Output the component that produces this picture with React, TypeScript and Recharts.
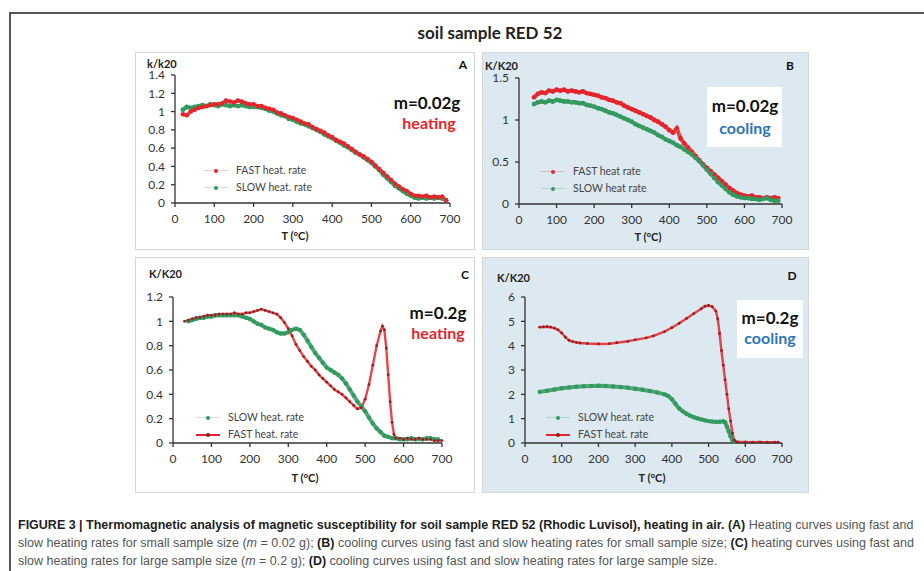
import React from 'react';
import { LineChart, Line, XAxis, YAxis } from 'recharts';

// temperatures (°C) and normalised susceptibility
const tempA = [20, 30, 40, 50, 60, 70, 80, 90, 100, 110, 120, 130, 140, 150, 160, 170, 180, 190, 200, 210, 220, 230, 240, 250, 260, 270, 280, 290, 300, 310, 320, 330, 340, 350, 360, 370, 380, 390, 400, 410, 420, 430, 440, 450, 460, 470, 480, 490, 500, 510, 520, 530, 540, 550, 560, 570, 580, 590, 600, 610, 620, 630, 640, 650, 660, 670, 680, 690];
const fastA = [0.97, 0.96, 1.0, 1.02, 1.04, 1.05, 1.06, 1.07, 1.08, 1.08, 1.09, 1.12, 1.11, 1.1, 1.12, 1.11, 1.09, 1.08, 1.08, 1.06, 1.06, 1.04, 1.03, 1.02, 0.99, 0.98, 0.96, 0.94, 0.93, 0.91, 0.89, 0.87, 0.86, 0.83, 0.81, 0.79, 0.77, 0.74, 0.72, 0.69, 0.67, 0.65, 0.62, 0.59, 0.56, 0.53, 0.51, 0.48, 0.45, 0.41, 0.37, 0.33, 0.29, 0.25, 0.21, 0.18, 0.15, 0.13, 0.1, 0.08, 0.08, 0.07, 0.08, 0.06, 0.07, 0.06, 0.07, 0.03];
const slowA = [1.02, 1.05, 1.04, 1.05, 1.06, 1.07, 1.06, 1.08, 1.07, 1.06, 1.08, 1.07, 1.06, 1.07, 1.06, 1.07, 1.06, 1.05, 1.05, 1.05, 1.04, 1.03, 1.01, 1.0, 0.98, 0.96, 0.95, 0.92, 0.91, 0.89, 0.87, 0.86, 0.84, 0.82, 0.8, 0.78, 0.75, 0.73, 0.71, 0.68, 0.66, 0.63, 0.61, 0.58, 0.55, 0.53, 0.5, 0.47, 0.44, 0.4, 0.36, 0.31, 0.27, 0.23, 0.19, 0.16, 0.13, 0.1, 0.08, 0.06, 0.05, 0.06, 0.05, 0.06, 0.05, 0.06, 0.05, 0.03];

const tempB = [40, 50, 60, 70, 80, 90, 100, 110, 120, 130, 140, 150, 160, 170, 180, 190, 200, 210, 220, 230, 240, 250, 260, 270, 280, 290, 300, 310, 320, 330, 340, 350, 360, 370, 380, 390, 400, 410, 420, 430, 440, 450, 460, 470, 480, 490, 500, 510, 520, 530, 540, 550, 560, 570, 580, 590, 600, 610, 620, 630, 640, 650, 660, 670, 680, 690];
const fastB = [1.27, 1.31, 1.33, 1.32, 1.35, 1.34, 1.36, 1.35, 1.36, 1.34, 1.35, 1.34, 1.33, 1.34, 1.32, 1.31, 1.3, 1.29, 1.27, 1.26, 1.24, 1.23, 1.21, 1.2, 1.17, 1.15, 1.13, 1.11, 1.09, 1.07, 1.05, 1.03, 1.0, 0.98, 0.95, 0.92, 0.88, 0.85, 0.9, 0.78, 0.72, 0.67, 0.62, 0.57, 0.52, 0.47, 0.43, 0.39, 0.35, 0.31, 0.27, 0.23, 0.19, 0.16, 0.13, 0.11, 0.1, 0.09, 0.1, 0.08, 0.08, 0.07, 0.08, 0.07, 0.08, 0.07];
const slowB = [1.19, 1.21, 1.22, 1.21, 1.23, 1.22, 1.24, 1.23, 1.22, 1.22, 1.21, 1.21, 1.2, 1.2, 1.18, 1.17, 1.16, 1.14, 1.13, 1.11, 1.09, 1.08, 1.06, 1.04, 1.02, 1.0, 0.98, 0.95, 0.93, 0.91, 0.89, 0.87, 0.85, 0.82, 0.8, 0.77, 0.75, 0.73, 0.7, 0.68, 0.65, 0.62, 0.59, 0.55, 0.51, 0.46, 0.41, 0.36, 0.31, 0.26, 0.22, 0.18, 0.14, 0.11, 0.09, 0.08, 0.07, 0.07, 0.06, 0.06, 0.05, 0.06, 0.07, 0.05, 0.04, 0.04];

const tempFastC = [30, 40, 50, 60, 70, 80, 90, 100, 110, 120, 130, 140, 150, 160, 170, 180, 190, 200, 210, 220, 230, 240, 250, 260, 270, 280, 290, 300, 310, 320, 330, 340, 350, 360, 370, 380, 390, 400, 410, 420, 430, 440, 450, 460, 470, 480, 490, 500, 510, 520, 530, 540, 545, 550, 555, 560, 565, 570, 575, 580, 590, 600, 610, 620, 630, 640, 650, 660, 670, 680, 690, 700];
const fastC = [1.0, 1.01, 1.02, 1.03, 1.03, 1.04, 1.05, 1.05, 1.05, 1.06, 1.06, 1.06, 1.06, 1.07, 1.06, 1.06, 1.07, 1.07, 1.08, 1.09, 1.1, 1.09, 1.08, 1.07, 1.06, 1.03, 0.99, 0.94, 0.88, 0.81, 0.76, 0.71, 0.67, 0.63, 0.6, 0.56, 0.53, 0.5, 0.47, 0.44, 0.42, 0.4, 0.37, 0.34, 0.31, 0.28, 0.29, 0.36, 0.48, 0.64, 0.8, 0.92, 0.96, 0.93, 0.78, 0.56, 0.34, 0.17, 0.07, 0.04, 0.04, 0.03, 0.04, 0.03, 0.03, 0.04, 0.03, 0.03, 0.03, 0.02, 0.02, 0.02];
const tempSlowC = [40, 50, 60, 70, 80, 90, 100, 110, 120, 130, 140, 150, 160, 170, 180, 190, 200, 210, 220, 230, 240, 250, 260, 270, 280, 290, 300, 310, 320, 330, 340, 350, 360, 370, 380, 390, 400, 410, 420, 430, 440, 450, 460, 470, 480, 490, 500, 510, 520, 530, 540, 550, 560, 570, 580, 590, 600, 610, 620, 630, 650, 660, 670, 680, 690];
const slowC = [1.0, 1.01, 1.02, 1.03, 1.03, 1.04, 1.04, 1.05, 1.05, 1.05, 1.05, 1.05, 1.05, 1.05, 1.04, 1.03, 1.02, 1.0, 0.98, 0.97, 0.95, 0.94, 0.93, 0.91, 0.9, 0.9, 0.91, 0.93, 0.94, 0.93, 0.89, 0.84, 0.79, 0.74, 0.7, 0.66, 0.62, 0.6, 0.58, 0.56, 0.53, 0.49, 0.44, 0.39, 0.34, 0.3, 0.26, 0.21, 0.16, 0.12, 0.09, 0.06, 0.05, 0.04, 0.04, 0.03, 0.03, 0.03, 0.04, 0.03, 0.03, 0.04, 0.04, 0.03, 0.03];

const tempFastD = [40, 50, 60, 70, 80, 90, 100, 110, 120, 130, 140, 150, 170, 200, 230, 250, 280, 300, 330, 350, 380, 400, 420, 440, 460, 480, 490, 500, 510, 520, 525, 530, 535, 540, 545, 550, 555, 560, 565, 570, 575, 580, 600, 620, 640, 660, 680, 690];
const fastD = [4.76, 4.77, 4.78, 4.76, 4.72, 4.65, 4.52, 4.35, 4.22, 4.17, 4.13, 4.11, 4.09, 4.07, 4.08, 4.12, 4.18, 4.24, 4.32, 4.4, 4.58, 4.74, 4.92, 5.12, 5.32, 5.52, 5.62, 5.65, 5.6, 5.42, 5.1, 4.5, 3.8, 3.2, 2.6, 2.0, 1.4, 0.9, 0.4, 0.12, 0.05, 0.04, 0.04, 0.03, 0.04, 0.03, 0.03, 0.03];
const tempSlowD = [40, 60, 80, 100, 120, 140, 160, 180, 200, 220, 240, 260, 280, 300, 320, 340, 360, 380, 390, 400, 410, 420, 430, 440, 450, 460, 470, 480, 490, 500, 510, 520, 530, 540, 545, 550, 555, 560, 565, 570];
const slowD = [2.1, 2.15, 2.2, 2.25, 2.28, 2.31, 2.33, 2.34, 2.35, 2.34, 2.32, 2.3, 2.27, 2.23, 2.19, 2.14, 2.08, 2.0, 1.93, 1.8, 1.6, 1.42, 1.3, 1.2, 1.12, 1.06, 1.01, 0.97, 0.93, 0.9, 0.88, 0.87, 0.87, 0.89, 0.85, 0.68, 0.48, 0.28, 0.12, 0.05];

const ticksX = [0, 100, 200, 300, 400, 500, 600, 700];
const ticksA = [0, 0.2, 0.4, 0.6, 0.8, 1, 1.2, 1.4];
const ticksB = [0, 0.5, 1, 1.5];
const ticksC = [0, 0.2, 0.4, 0.6, 0.8, 1, 1.2];
const ticksD = [0, 1, 2, 3, 4, 5, 6];

const RED = '#e4252b';
const GREEN = '#33995f';
const BLUE_BG = '#dce9f1';
const FONT = 'Lato, "Open Sans", sans-serif';

const pts = (t: number[], v: number[]) => t.map((x, i) => ({ t: x, v: v[i] }));

const axisProps = {
  stroke: '#333',
  strokeWidth: 1.3,
  tickSize: 4,
  tick: { fontSize: 12, fill: '#333', fontFamily: FONT },
};

type SeriesDef = { data: { t: number; v: number }[]; color: string; width: number; r: number; dotColor?: string };

const Plot = ({ w, h, margin, yw, yDomain, yTicks, series }: {
  w: number; h: number; margin: any; yw: number; yDomain: number[]; yTicks: number[]; series: SeriesDef[];
}) => (
  <LineChart width={w} height={h} margin={margin}>
    <XAxis type="number" dataKey="t" domain={[0, 700]} ticks={ticksX} height={24} tickMargin={7} {...axisProps} />
    <YAxis type="number" domain={yDomain} ticks={yTicks} width={yw} tickMargin={6} interval={0} {...axisProps} />
    {series.map((s, i) => (
      <Line
        key={i}
        data={s.data}
        dataKey="v"
        type="linear"
        stroke={s.color}
        strokeWidth={s.width}
        strokeOpacity={0.85}
        dot={{ r: s.r, fill: s.dotColor || s.color, stroke: 'none' }}
        isAnimationActive={false}
      />
    ))}
  </LineChart>
);

const Txt = ({ x, y, children, style }: { x: number; y: number; children: React.ReactNode; style?: React.CSSProperties }) => (
  <div style={{ position: 'absolute', left: x, top: y, whiteSpace: 'nowrap', fontFamily: FONT, lineHeight: 1, ...style }}>{children}</div>
);

const Centered = ({ x, y, children, style }: { x: number; y: number; children: React.ReactNode; style?: React.CSSProperties }) => (
  <div style={{ position: 'absolute', left: x - 100, top: y, width: 200, textAlign: 'center', whiteSpace: 'nowrap', fontFamily: FONT, lineHeight: 1, transform: 'translateY(-50%)', ...style }}>{children}</div>
);

const LegendItem = ({ x, y, color, label, line, dotColor }: { x: number; y: number; color: string; label: string; line: boolean; dotColor?: string }) => (
  <>
    <div style={{ position: 'absolute', left: x, top: y - 1, width: 24, height: line ? 2 : 1, background: color, opacity: line ? 1 : 0.25 }} />
    <div style={{ position: 'absolute', left: x + 10, top: y - 2, width: 4, height: 4, borderRadius: 2, background: dotColor || color }} />
    <Txt x={x + 32} y={y - 6} style={{ fontSize: 10.5, color: '#444' }}>{label}</Txt>
  </>
);

const panelBox = (left: number, top: number, w: number, h: number, bg: string): React.CSSProperties => ({
  position: 'absolute', left, top, width: w, height: h, background: bg, border: '1px solid #d6d6d6', boxSizing: 'border-box',
});

export default function App() {
  return (
    <div style={{ position: 'absolute', left: 0, top: 0, width: 924, height: 571, overflow: 'hidden', background: '#fff', fontFamily: FONT }}>
      <div style={{ position: 'absolute', left: 9, top: 12, width: 1000, height: 700, border: '2px solid #555', boxSizing: 'border-box' }} />
      <Centered x={490} y={32} style={{ fontSize: 17, fontWeight: 700, color: '#222' }}>soil sample RED 52</Centered>

      {/* A */}
      <div style={panelBox(135, 52, 340, 198, '#fff')}>
        <Plot w={338} h={196} margin={{ top: 22, right: 24, bottom: 22, left: 7 }} yw={32} yDomain={[0, 1.4]} yTicks={ticksA}
          series={[
            { data: pts(tempA, slowA), color: GREEN, width: 4, r: 2.4 },
            { data: pts(tempA, fastA), color: RED, width: 3.5, r: 2.3 },
          ]} />
      </div>
      <Txt x={147} y={58} style={{ fontSize: 11, fontWeight: 700, color: '#222' }}>k/k20</Txt>
      <Centered x={463} y={65} style={{ fontSize: 12, fontWeight: 700, color: '#111' }}>A</Centered>
      <Centered x={427} y={102} style={{ fontSize: 17, fontWeight: 700, color: '#111' }}>m=0.02g</Centered>
      <Centered x={429} y={123} style={{ fontSize: 16, fontWeight: 700, color: RED }}>heating</Centered>
      <LegendItem x={204} y={171} color={RED} label="FAST heat. rate" line={false} />
      <LegendItem x={204} y={188} color={GREEN} label="SLOW heat. rate" line={false} />
      <Centered x={295} y={235} style={{ fontSize: 11, fontWeight: 700, color: '#222' }}>T (°C)</Centered>

      {/* B */}
      <div style={panelBox(482, 52, 327, 198, BLUE_BG)}>
        <Plot w={325} h={196} margin={{ top: 25, right: 26, bottom: 21, left: 6 }} yw={30} yDomain={[0, 1.5]} yTicks={ticksB}
          series={[
            { data: pts(tempB, fastB), color: RED, width: 4, r: 2.4 },
            { data: pts(tempB, slowB), color: GREEN, width: 4, r: 2.4 },
          ]} />
      </div>
      <div style={{ position: 'absolute', left: 707, top: 87, width: 75, height: 60, background: '#fff' }} />
      <Txt x={485} y={60} style={{ fontSize: 11, fontWeight: 700, color: '#222' }}>K/K20</Txt>
      <Centered x={790} y={66} style={{ fontSize: 12, fontWeight: 700, color: '#111' }}>B</Centered>
      <Centered x={745} y={105} style={{ fontSize: 17, fontWeight: 700, color: '#111' }}>m=0.02g</Centered>
      <Centered x={745} y={128} style={{ fontSize: 16, fontWeight: 700, color: '#2e75b6' }}>cooling</Centered>
      <LegendItem x={541} y={172} color={RED} label="FAST heat rate" line={false} />
      <LegendItem x={541} y={189} color={GREEN} label="SLOW heat rate" line={false} />
      <Centered x={648} y={236} style={{ fontSize: 11, fontWeight: 700, color: '#222' }}>T (°C)</Centered>

      {/* C */}
      <div style={panelBox(135, 257, 340, 236, '#fff')}>
        <Plot w={338} h={234} margin={{ top: 39, right: 32, bottom: 25, left: 5 }} yw={32} yDomain={[0, 1.2]} yTicks={ticksC}
          series={[
            { data: pts(tempSlowC, slowC), color: GREEN, width: 4, r: 2.2 },
            { data: pts(tempFastC, fastC), color: RED, width: 2.4, r: 1.4, dotColor: '#9b1b1f' },
          ]} />
      </div>
      <Txt x={149} y={268} style={{ fontSize: 11, fontWeight: 700, color: '#222' }}>K/K20</Txt>
      <Centered x={465} y={275} style={{ fontSize: 12, fontWeight: 700, color: '#111' }}>C</Centered>
      <Centered x={438} y={312} style={{ fontSize: 17, fontWeight: 700, color: '#111' }}>m=0.2g</Centered>
      <Centered x={438} y={333} style={{ fontSize: 16, fontWeight: 700, color: RED }}>heating</Centered>
      <LegendItem x={196} y={418} color={GREEN} label="SLOW heat. rate" line={false} />
      <LegendItem x={196} y={435} color={RED} label="FAST heat. rate" line={true} dotColor="#9b1b1f" />
      <Centered x={305} y={477} style={{ fontSize: 11, fontWeight: 700, color: '#222' }}>T (°C)</Centered>

      {/* D */}
      <div style={panelBox(482, 257, 327, 236, BLUE_BG)}>
        <Plot w={325} h={234} margin={{ top: 39, right: 26, bottom: 25, left: 12 }} yw={30} yDomain={[0, 6]} yTicks={ticksD}
          series={[
            { data: pts(tempSlowD, slowD), color: GREEN, width: 4, r: 2.2 },
            { data: pts(tempFastD, fastD), color: RED, width: 2.4, r: 1.4, dotColor: '#9b1b1f' },
          ]} />
      </div>
      <div style={{ position: 'absolute', left: 737, top: 300, width: 66, height: 58, background: '#fff' }} />
      <Txt x={497} y={272} style={{ fontSize: 11, fontWeight: 700, color: '#222' }}>K/K20</Txt>
      <Centered x={792} y={276} style={{ fontSize: 12, fontWeight: 700, color: '#111' }}>D</Centered>
      <Centered x={770} y={317} style={{ fontSize: 17, fontWeight: 700, color: '#111' }}>m=0.2g</Centered>
      <Centered x={770} y={338} style={{ fontSize: 16, fontWeight: 700, color: '#2e75b6' }}>cooling</Centered>
      <LegendItem x={546} y={418} color={GREEN} label="SLOW heat. rate" line={false} />
      <LegendItem x={546} y={435} color={RED} label="FAST heat. rate" line={true} dotColor="#9b1b1f" />
      <Centered x={652} y={477} style={{ fontSize: 11, fontWeight: 700, color: '#222' }}>T (°C)</Centered>

      {/* caption */}
      <div style={{ position: 'absolute', left: 18, top: 516, width: 905, fontFamily: '"Liberation Sans Narrow", "Liberation Sans", Arial, sans-serif', fontSize: 12.5, lineHeight: '18px', color: '#555', whiteSpace: 'nowrap' }}>
        <div><b style={{ color: '#222' }}>FIGURE 3 | Thermomagnetic analysis of magnetic susceptibility for soil sample RED 52 (Rhodic Luvisol), heating in air. (A)</b> Heating curves using fast and</div>
        <div>slow heating rates for small sample size (<i>m</i> = 0.02 g); <b style={{ color: '#222' }}>(B)</b> cooling curves using fast and slow heating rates for small sample size; <b style={{ color: '#222' }}>(C)</b> heating curves using fast and</div>
        <div>slow heating rates for large sample size (<i>m</i> = 0.2 g); <b style={{ color: '#222' }}>(D)</b> cooling curves using fast and slow heating rates for large sample size.</div>
      </div>
    </div>
  );
}
